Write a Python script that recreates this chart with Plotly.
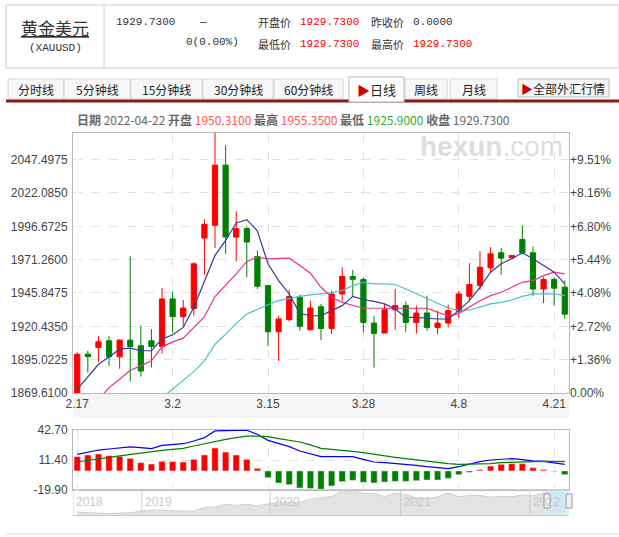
import plotly.graph_objects as go

# daily candles 2022-02-17 .. 2022-04-22
tick_idx = [0, 9, 18, 27, 36, 45]
tick_text = ['2.17', '3.2', '3.15', '3.28', '4.8', '4.21']

opens = [1868.6, 1899.2, 1904.3, 1909.4, 1897.2, 1909.9, 1905.6, 1909.4, 1905.1, 1941.3,
         1927.8, 1934.1, 1987.7, 1997.4, 2043.3, 1988.5, 1994.9, 1973.7, 1951.5, 1916.3,
         1925.5, 1942.6, 1917.8, 1935.4, 1918.8, 1945.1, 1958.4, 1956.1, 1922.9, 1915.3,
         1933.1, 1936.2, 1923.4, 1930.6, 1919.6, 1922.9, 1931.9, 1943.3, 1951.5, 1965.0,
         1976.5, 1972.7, 1986.7, 1976.5, 1948.9, 1956.1, 1950.31]
highs = [1900.5, 1901.8, 1913.2, 1913.2, 1910.7, 1973.7, 1920.9, 1918.3, 1949.5, 1946.9,
         1940.5, 1969.3, 2002.0, 2068.8, 2058.6, 2008.1, 1996.7, 1978.3, 1951.5, 1928.5,
         1948.4, 1944.6, 1940.0, 1937.5, 1947.7, 1965.5, 1963.5, 1957.9, 1928.5, 1937.5,
         1948.9, 1939.3, 1936.2, 1943.8, 1932.4, 1937.0, 1947.2, 1968.6, 1977.8, 1980.8,
         1980.1, 1974.5, 1997.4, 1981.3, 1957.9, 1957.9, 1955.35]
lows = [1867.3, 1885.2, 1893.3, 1890.3, 1888.2, 1878.3, 1882.1, 1889.0, 1899.7, 1915.8,
        1920.9, 1928.5, 1959.7, 1980.1, 1975.7, 1969.9, 1957.9, 1948.9, 1905.6, 1894.1,
        1924.2, 1917.1, 1917.1, 1909.9, 1914.5, 1940.0, 1942.6, 1915.8, 1889.0, 1915.3,
        1917.8, 1916.3, 1915.0, 1917.1, 1914.5, 1919.6, 1926.8, 1939.5, 1948.2, 1961.7,
        1959.9, 1972.7, 1975.2, 1943.3, 1938.2, 1936.2, 1925.9]
closes = [1899.2, 1897.4, 1908.6, 1897.2, 1909.9, 1905.1, 1886.4, 1905.1, 1941.3, 1927.8,
          1934.4, 1968.1, 1998.2, 2043.3, 1988.5, 1994.9, 1984.7, 1951.0, 1916.3, 1926.0,
          1943.1, 1920.4, 1934.4, 1918.8, 1945.1, 1958.4, 1956.3, 1923.4, 1915.0, 1933.1,
          1936.2, 1923.4, 1930.6, 1919.6, 1922.9, 1932.4, 1945.1, 1952.3, 1965.5, 1975.7,
          1972.4, 1974.5, 1976.5, 1948.9, 1956.1, 1949.5, 1929.73]

ma5 = [1872.4, 1881.9, 1891.5, 1897.1, 1903.0, 1903.8, 1901.8, 1901.8, 1910.7, 1914.0,
       1919.6, 1934.9, 1954.0, 1974.5, 1985.9, 1999.2, 2001.7, 1993.1, 1968.1, 1955.3,
       1945.1, 1930.3, 1928.5, 1928.5, 1932.4, 1936.2, 1943.3, 1940.8, 1939.5, 1937.5,
       1933.6, 1927.3, 1927.3, 1926.7, 1926.0, 1926.0, 1932.4, 1940.0, 1950.2, 1961.7,
       1968.1, 1971.9, 1976.5, 1971.9, 1966.8, 1961.7, 1952.8]
ma10 = [None, None, 1864.8, 1873.7, 1880.1, 1887.0, 1890.3, 1894.1, 1904.8, 1908.6,
        1911.4, 1919.6, 1927.8, 1943.1, 1951.5, 1960.4, 1969.9, 1973.2, 1971.9, 1971.9,
        1972.4, 1966.8, 1960.9, 1950.2, 1942.6, 1938.7, 1936.2, 1934.2, 1934.2, 1934.4,
        1934.2, 1934.2, 1934.2, 1934.2, 1931.1, 1928.5, 1930.3, 1934.9, 1940.0, 1943.8,
        1946.4, 1950.2, 1954.0, 1955.3, 1959.1, 1961.7, 1960.4]
ma20 = [None, None, None, None, None, None, None, None, 1866.0, 1872.4,
        1878.8, 1885.9, 1894.1, 1906.8, 1914.5, 1922.7, 1929.8, 1933.6, 1936.9, 1940.0,
        1941.8, 1943.3, 1944.4, 1945.1, 1945.9, 1947.7, 1951.5, 1954.0, 1952.8, 1952.8,
        1952.3, 1948.9, 1945.1, 1941.3, 1938.0, 1934.4, 1932.4, 1932.9, 1935.4, 1937.5,
        1938.7, 1940.5, 1943.3, 1945.1, 1945.1, 1945.1, 1943.8]

price_ticks = [1869.61, 1895.0225, 1920.435, 1945.8475, 1971.26, 1996.6725, 2022.085, 2047.4975]

macd_hist = [14.9, 16.6, 17.7, 15.9, 15.2, 13.1, 8.6, 7.2, 10.0, 9.7,
             9.3, 12.1, 16.6, 23.9, 19.7, 16.6, 12.1, 2.7, -7.0, -12.6,
             -14.3, -17.8, -18.2, -19.2, -15.7, -11.2, -9.8, -11.9, -12.6, -11.6,
             -10.9, -10.9, -10.2, -9.5, -9.5, -7.7, -3.9, -1.5, 1.3, 5.1,
             6.9, 7.6, 7.6, 3.4, 1.3, -0.4, -3.9]
dif = [17.3, 19.7, 21.8, 22.9, 23.9, 25.0, 24.3, 23.2, 26.7, 27.4,
       28.4, 31.2, 34.7, 41.7, 42.4, 42.4, 42.4, 38.2, 31.9, 28.4,
       25.3, 20.8, 18.0, 14.9, 14.9, 14.9, 14.9, 12.1, 9.3, 8.6,
       7.9, 6.9, 5.8, 4.4, 3.1, 2.4, 4.4, 7.2, 9.7, 11.4,
       12.1, 12.8, 11.8, 10.4, 10.0, 8.6, 6.9]
dea = [9.3, 11.1, 12.8, 14.2, 15.6, 17.0, 19.1, 20.1, 21.5, 22.5,
       23.6, 26.0, 28.4, 30.5, 33.0, 34.7, 36.4, 36.4, 35.8, 33.7,
       31.9, 30.2, 27.1, 23.6, 22.5, 21.8, 20.4, 19.1, 17.3, 15.6,
       14.2, 12.8, 11.4, 10.4, 9.0, 7.6, 6.9, 6.9, 7.2, 7.6,
       8.6, 9.0, 9.7, 9.7, 10.0, 10.0, 9.7]
macd_ticks = [-19.90, 11.40, 42.70]

# navigator: monthly closes 2018-06 .. 2022-04
nav_values = [1250, 1224, 1201, 1192, 1215, 1222, 1282,
              1321, 1313, 1292, 1284, 1284, 1409, 1414, 1520, 1472, 1513, 1464, 1517,
              1582, 1585, 1577, 1686, 1730, 1780, 1975, 1968, 1887, 1879, 1776, 1888,
              1847, 1734, 1708, 1768, 1903, 1770, 1814, 1813, 1757, 1783, 1775, 1829,
              1797, 1909, 1937, 1900]
nav_years = ['2018', '2019', '2020', '2021', '2022']
nav_year_idx = [0, 6.5, 18.6, 30.9, 43.1]

idx = list(range(len(closes)))
W, H = 619, 537
def py(px):
    return 1 - px / H
def pxx(px):
    return px / W

XR = [-0.4, len(closes) - 0.6]
FONT = 'Noto Sans CJK SC'
AX = dict(family='Arial', size=12, color='#444')

fig = go.Figure()
fig.add_trace(go.Candlestick(
    x=idx, open=opens, high=highs, low=lows, close=closes,
    increasing=dict(line=dict(color='#ff0000', width=1), fillcolor='#ff0000'),
    decreasing=dict(line=dict(color='#008000', width=1), fillcolor='#008000'),
    whiskerwidth=0, showlegend=False, hoverinfo='skip'))
for ma, col in [(ma20, '#4cbfc9'), (ma10, '#e8338c'), (ma5, '#353d9c')]:
    fig.add_trace(go.Scatter(x=idx, y=ma, mode='lines', line=dict(color=col, width=1.2),
                             showlegend=False, hoverinfo='skip'))
# invisible trace to enable the percent axis
fig.add_trace(go.Scatter(x=[0], y=[closes[0]], yaxis='y2', mode='markers',
                         marker=dict(opacity=0), showlegend=False, hoverinfo='skip'))

fig.add_trace(go.Bar(x=idx, y=macd_hist, xaxis='x2', yaxis='y3', width=0.6,
                     marker_color=['#ff0000' if v >= 0 else '#008000' for v in macd_hist],
                     showlegend=False, hoverinfo='skip'))
fig.add_trace(go.Scatter(x=idx, y=dif, xaxis='x2', yaxis='y3', mode='lines',
                         line=dict(color='#0000ff', width=1.2), showlegend=False))
fig.add_trace(go.Scatter(x=idx, y=dea, xaxis='x2', yaxis='y3', mode='lines',
                         line=dict(color='#008000', width=1.2), showlegend=False))

fig.add_trace(go.Scatter(x=list(range(len(nav_values))), y=nav_values, xaxis='x3', yaxis='y4',
                         mode='lines', fill='tozeroy', fillcolor='#e3e3e3',
                         line=dict(color='#d0d0d0', width=1), showlegend=False))

base = price_ticks[0]
pct_text = ['0.00%'] + ['+%.2f%%' % ((v / base - 1) * 100) for v in price_ticks[1:]]

main_dom = [py(393), py(133)]
xdom = [pxx(73), pxx(569)]
grid = dict(gridcolor='#e2e2e2', griddash='dash', gridwidth=1, automargin=False)
fig.update_layout(
    width=W, height=H, autosize=False, margin=dict(l=0, r=0, t=0, b=0, autoexpand=False),
    paper_bgcolor='white', plot_bgcolor='white',
    font=dict(family=FONT, size=12, color='#333'),
    xaxis=dict(domain=xdom, range=XR, anchor='y', tickvals=tick_idx, ticktext=tick_text,
               showline=True, linecolor='#bbbbbb', mirror=True, ticks='', tickfont=AX,
               rangeslider=dict(visible=False), **grid),
    yaxis=dict(domain=main_dom, range=[1869.61, 2067.8], tickvals=price_ticks,
               ticktext=['%.4f' % v for v in price_ticks], showline=True, linecolor='#bbbbbb',
               mirror=True, tickfont=AX, zeroline=False, ticklabelstandoff=2, **grid),
    yaxis2=dict(overlaying='y', side='right', anchor='x', range=[1869.61, 2067.8],
                tickvals=price_ticks, ticktext=pct_text, showgrid=False, zeroline=False,
                tickfont=AX, automargin=False),
    xaxis2=dict(domain=xdom, range=XR, anchor='y3', tickvals=tick_idx, showticklabels=False,
                showline=True, linecolor='#bbbbbb', mirror=True, **grid),
    yaxis3=dict(domain=[py(490), py(430)], range=[-19.9, 42.7], tickvals=macd_ticks,
                ticktext=['%.2f' % v for v in macd_ticks], showline=True, linecolor='#bbbbbb',
                mirror=True, zeroline=False, tickfont=AX, ticklabelstandoff=2, **grid),
    xaxis3=dict(domain=xdom, range=XR, anchor='y4', showticklabels=False, showgrid=False,
                showline=True, linecolor='#cccccc', mirror=True, automargin=False),
    yaxis4=dict(domain=[py(515), py(490)], range=[1150, 2000], showticklabels=False,
                showgrid=False, zeroline=False, automargin=False),
)

shapes = []
ann = []
# header box
shapes.append(dict(type='rect', xref='paper', yref='paper', x0=pxx(6), x1=pxx(619), y0=py(68),
                   y1=py(5), line=dict(color='#cccccc', width=1)))
shapes.append(dict(type='line', xref='paper', yref='paper', x0=pxx(104), x1=pxx(104), y0=py(68),
                   y1=py(5), line=dict(color='#cccccc', width=1)))
ann.append(dict(text='<u>黄金美元</u>', x=pxx(55), y=py(27), font=dict(size=17, color='#333')))
ann.append(dict(text='(XAUUSD)', x=pxx(55), y=py(48), font=dict(size=11, color='#333', family='Liberation Mono')))
mono = 'Liberation Mono'
def hdr(t, x, y, c='#333', f=mono):
    ann.append(dict(text=t, x=pxx(x), y=py(y), xanchor='left', font=dict(size=11, color=c, family=f)))
hdr('1929.7300', 114, 22)
hdr('—', 197, 22)
hdr('0(0.00%)', 184, 42)
hdr('开盘价', 256, 22, f=FONT)
hdr('1929.7300', 298, 22, '#ff0000')
hdr('昨收价', 369, 22, f=FONT)
hdr('0.0000', 411, 22)
hdr('最低价', 256, 44, f=FONT)
hdr('1929.7300', 298, 44, '#ff0000')
hdr('最高价', 369, 44, f=FONT)
hdr('1929.7300', 411, 44, '#ff0000')

# tabs
tabs = [('分时线', 8, 64), ('5分钟线', 64, 130), ('15分钟线', 131, 202), ('30分钟线', 203, 273),
        ('60分钟线', 274, 343), ('周线', 405, 447), ('月线', 450, 497)]
for t, a, b in tabs:
    shapes.append(dict(type='rect', xref='paper', yref='paper', x0=pxx(a), x1=pxx(b), y0=py(99),
                       y1=py(79), line=dict(color='#d5d5d5', width=1), fillcolor='#f7f7f7'))
    ann.append(dict(text=t, x=pxx((a + b) / 2), y=py(89), font=dict(size=12, color='#222')))
shapes.append(dict(type='line', xref='paper', yref='paper', x0=pxx(6), x1=pxx(619), y0=py(101),
                   y1=py(101), line=dict(color='#8b1a1a', width=3)))
shapes.append(dict(type='rect', xref='paper', yref='paper', x0=pxx(349), x1=pxx(404), y0=py(102),
                   y1=py(77), line=dict(color='#bbbbbb', width=1), fillcolor='white'))
ann.append(dict(text='<span style="color:#c00">▶</span>日线', x=pxx(376), y=py(90), font=dict(size=13, color='#222')))
shapes.append(dict(type='rect', xref='paper', yref='paper', x0=pxx(518), x1=pxx(609), y0=py(97),
                   y1=py(79), line=dict(color='#bbbbbb', width=1), fillcolor='#f7f7f7'))
ann.append(dict(text='<span style="color:#c00">▶</span>全部外汇行情', x=pxx(563), y=py(88), font=dict(size=12, color='#222')))

# info line
ann.append(dict(text='<b>日期</b> 2022-04-22 <b>开盘</b> <span style="color:#f55">1950.3100</span> '
                     '<b>最高</b> <span style="color:#f55">1955.3500</span> <b>最低</b> '
                     '<span style="color:#3a3">1925.9000</span> <b>收盘</b> 1929.7300',
                x=pxx(75), y=py(120), xanchor='left', font=dict(size=12, color='#666')))
# watermark
ann.append(dict(text='<b>hexun</b>.com', x=pxx(565), y=py(146), xanchor='right',
                font=dict(size=28, color='#dddddd', family='Arial')))
# x label band
shapes.append(dict(type='rect', xref='paper', yref='paper', x0=pxx(73), x1=pxx(569), y0=py(418),
                   y1=py(394), line=dict(width=0), fillcolor='#f5f5f5', layer='below'))
# navigator years
for t, i in zip(nav_years, nav_year_idx):
    shapes.append(dict(type='line', xref='x3', yref='paper', x0=i - 0.4, x1=i - 0.4, y0=py(515),
                       y1=py(490), line=dict(color='#cccccc', width=1)))
    ann.append(dict(text=t, x=i - 0.3, xref='x3', y=py(502), yref='paper', xanchor='left',
                    font=dict(size=12, color='#c8c8c8', family='Arial')))
shapes.append(dict(type='rect', xref='paper', yref='paper', x0=pxx(547), x1=pxx(569), y0=py(515),
                   y1=py(490), line=dict(width=0), fillcolor='rgba(200,235,245,0.6)'))
for hx in (547, 569):
    shapes.append(dict(type='rect', xref='paper', yref='paper', x0=pxx(hx - 3), x1=pxx(hx + 3),
                       y0=py(508), y1=py(494), line=dict(color='#999', width=1), fillcolor='#f0f0f0'))
shapes.append(dict(type='line', xref='paper', yref='paper', x0=pxx(6), x1=pxx(619), y0=py(534),
                   y1=py(534), line=dict(color='#dddddd', width=1)))

for a in ann:
    a.setdefault('xref', 'paper')
    a.setdefault('yref', 'paper')
    a.setdefault('xanchor', 'center')
    a.setdefault('yanchor', 'middle')
    a['showarrow'] = False
fig.update_layout(shapes=shapes, annotations=ann)
fig.write_html('out.html', config={'displayModeBar': False},
               post_script="document.body.style.margin='0';")
